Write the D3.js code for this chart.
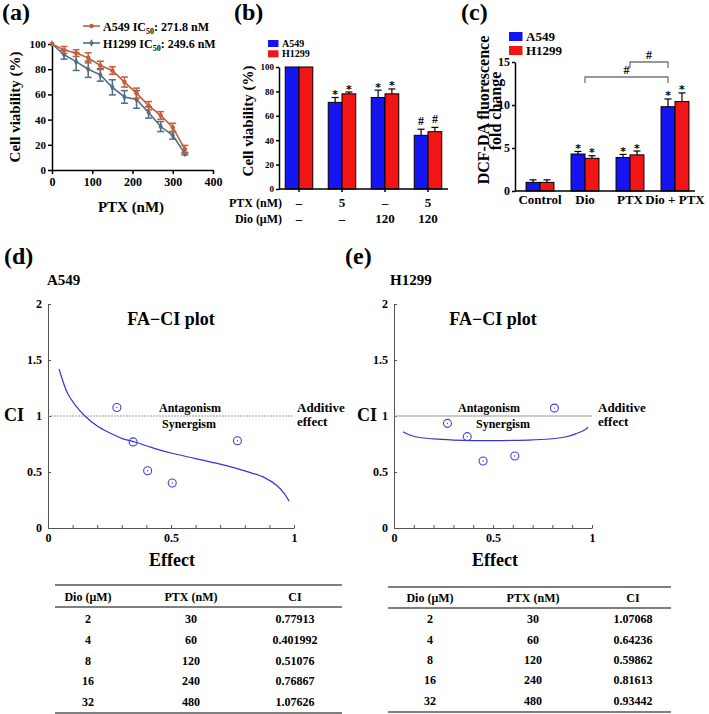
<!DOCTYPE html>
<html><head><meta charset="utf-8">
<script src="https://cdn.jsdelivr.net/npm/d3@7"></script>
<style>body{margin:0;background:#fff}svg{display:block}</style>
</head><body><svg id="chart"></svg>
<script>
// ---------- DATA ----------
// (a) dose-response
const aDose=[0,30,60,90,120,150,180,210,240,270,300,330];
const aA549=[100,95.3,92.8,89,83,79,69.8,61,51,43.3,33.8,16.5];
const aA549Err=[0,2.7,2.7,4,3.3,3,4,4,3.3,3,3.3,3];
const aH1299=[100,91.5,86,80,75.5,65.6,58,56,45.7,34.5,27.5,13];
const aH1299Err=[0,3.5,7,6.5,5,6,5,7,4.5,4,3,1];
const aXTicks=[0,100,200,300,400];
const aYTicks=[0,20,40,60,80,100];
const aNames=["A549","H1299"];
const aIC50=["271.8","249.6"];
// (b) viability bars
const bGroups=["g1","g2","g3","g4"];
const bA549=[100,71,75,44];
const bA549Err=[0,4,6,5];
const bH1299=[100,78,78,47];
const bH1299Err=[0,1.5,4,3.5];
const bMarks=["","*","*","#"];
const bPTX=["\u2013","5","\u2013","5"];
const bDio=["\u2013","\u2013","120","120"];
const bYTicks=[0,20,40,60,80,100];
// (c) DCF-DA
const cGroups=["Control","Dio","PTX","Dio + PTX"];
const cA549=[1.0,4.3,3.9,9.8];
const cA549Err=[0.3,0.3,0.35,0.9];
const cH1299=[1.0,3.8,4.2,10.4];
const cH1299Err=[0.3,0.3,0.45,1.0];
const cMarks=["","*","*","*"];
const cYTicks=[0,5,10,15];
// (d) A549 FA-CI
const dEffect=[0.77,0.505,0.405,0.346,0.28];
const dCI=[0.77913,0.401992,0.51076,0.76867,1.07626];
const dCurveE=[0.045,0.08,0.11,0.15,0.2,0.25,0.3,0.35,0.42,0.5,0.6,0.7,0.8,0.88,0.93,0.96,0.98];
const dCurveCI=[1.42,1.2,1.1,1.0,0.91,0.85,0.8,0.77,0.72,0.67,0.62,0.57,0.51,0.45,0.38,0.31,0.24];
// (e) H1299 FA-CI
const eEffect=[0.81,0.61,0.45,0.37,0.27];
const eCI=[1.07068,0.64236,0.59862,0.81613,0.93442];
const eCurveE=[0.045,0.08,0.12,0.2,0.3,0.4,0.5,0.6,0.7,0.8,0.87,0.92,0.96,0.98];
const eCurveCI=[0.86,0.83,0.81,0.795,0.785,0.78,0.78,0.782,0.787,0.797,0.815,0.843,0.873,0.9];
// tables
const tDio=[2,4,8,16,32];
const tPTX=[30,60,120,240,480];
const tHead=["Dio (\u03bcM)","PTX (nM)","CI"];
const faYTicks=[0,0.5,1,1.5,2];
const faXTicks=[0,0.1,0.2,0.3,0.4,0.5,0.6,0.7,0.8,0.9,1];
const faXLabels=[0,0.5,1];

// ---------- SETUP ----------
const W=709,H=714;
const FONT='"Liberation Serif","Times New Roman",Times,serif';
const BLUE="#1515f2",RED="#f21515";
const svg=d3.select("#chart").attr("width",W).attr("height",H)
  .style("font-family",FONT).style("font-weight","bold");

function label(g,x,y,t,size,anchor){
  return g.append("text").attr("x",x).attr("y",y).attr("font-size",size)
    .attr("text-anchor",anchor||"start").attr("fill","#000")
    .attr("font-family",FONT).attr("font-weight","bold").text(t);
}
function vlabel(g,x,y,t,size){
  return g.append("text").attr("transform",`translate(${x},${y}) rotate(-90)`)
    .attr("font-size",size).attr("text-anchor","middle").attr("fill","#000")
    .attr("font-family",FONT).attr("font-weight","bold").text(t);
}
function star(g,x,top){
  return label(g,x,top+0.5,"*",11,"middle").attr("font-family","DejaVu Sans");
}
function styleAxis(g,size,color,width){
  g.select(".domain").attr("stroke",color).attr("stroke-width",width);
  g.selectAll(".tick line").attr("stroke",color).attr("stroke-width",width);
  g.selectAll(".tick text").attr("font-size",size).attr("font-family",FONT)
    .attr("font-weight","bold").attr("fill","#000");
}

// panel letters
label(svg,2,20,"(a)",24);
label(svg,234,20,"(b)",24);
label(svg,461,20,"(c)",24);
label(svg,4,264,"(d)",24);
label(svg,345,264,"(e)",24);

// ---------- (a) ----------
{
  const g=svg.append("g");
  const x=d3.scaleLinear().domain([0,400]).range([52,213]);
  const y=d3.scaleLinear().domain([0,100]).range([170,44]);
  g.append("g").attr("transform","translate(0,170)")
    .call(d3.axisBottom(x).tickValues(aXTicks).tickSize(4).tickSizeOuter(0).tickPadding(3))
    .call(s=>styleAxis(s,12,"#000",1.5));
  g.append("g").attr("transform","translate(52,0)")
    .call(d3.axisLeft(y).tickValues(aYTicks).tickSize(4).tickSizeOuter(0).tickPadding(2))
    .call(s=>styleAxis(s,11,"#000",1.5));
  vlabel(g,20,107,"Cell viability (%)",15);
  label(g,131,212,"PTX (nM)",15,"middle");
  const series=[
    {v:aH1299,e:aH1299Err,c:"#4f6d84",sym:d3.symbolDiamond},
    {v:aA549,e:aA549Err,c:"#c35d3c",sym:d3.symbolCircle}
  ];
  series.forEach(s=>{
    const line=d3.line().x((d,i)=>x(aDose[i])).y(d=>y(d));
    g.append("path").attr("d",line(s.v)).attr("fill","none").attr("stroke",s.c).attr("stroke-width",1.6);
    const eb=g.append("g").attr("stroke",s.c).attr("stroke-width",1.5);
    s.v.forEach((v,i)=>{
      if(!s.e[i])return;
      const cx=x(aDose[i]);
      eb.append("line").attr("x1",cx).attr("x2",cx).attr("y1",y(v-s.e[i])).attr("y2",y(v+s.e[i]));
      eb.append("line").attr("x1",cx-3.5).attr("x2",cx+3.5).attr("y1",y(v-s.e[i])).attr("y2",y(v-s.e[i]));
      eb.append("line").attr("x1",cx-3.5).attr("x2",cx+3.5).attr("y1",y(v+s.e[i])).attr("y2",y(v+s.e[i]));
    });
    g.selectAll(null).data(s.v).enter().append("path")
      .attr("d",d3.symbol().type(s.sym).size(16))
      .attr("transform",(d,i)=>`translate(${x(aDose[i])},${y(d)})`).attr("fill",s.c);
  });
  const cols=["#c35d3c","#4f6d84"],syms=[d3.symbolCircle,d3.symbolDiamond];
  aNames.forEach((n,i)=>{
    const ly=26+i*17;
    g.append("line").attr("x1",83).attr("x2",100).attr("y1",ly).attr("y2",ly).attr("stroke",cols[i]).attr("stroke-width",1.6);
    g.append("path").attr("d",d3.symbol().type(syms[i]).size(16)).attr("transform",`translate(91.5,${ly})`).attr("fill",cols[i]);
    const t=label(g,103,ly+4.5,n+" IC",12);
    t.append("tspan").attr("font-size",8).attr("dy",3).text("50");
    t.append("tspan").attr("dy",-3).text(": "+aIC50[i]+" nM");
  });
}

// ---------- (b) ----------
{
  const g=svg.append("g");
  const y=d3.scaleLinear().domain([0,100]).range([189,67]);
  const x=d3.scaleBand().domain(bGroups).range([277.5,449.5]).paddingInner(0.36).paddingOuter(0.18);
  const x1=d3.scaleBand().domain(["A549","H1299"]).range([0,x.bandwidth()]);
  const ser=[{v:bA549,e:bA549Err,c:BLUE,k:"A549"},{v:bH1299,e:bH1299Err,c:RED,k:"H1299"}];
  ser.forEach(s=>{
    bGroups.forEach((gr,i)=>{
      const bx=x(gr)+x1(s.k),bw=x1.bandwidth();
      g.append("rect").attr("x",bx).attr("y",y(s.v[i])).attr("width",bw).attr("height",y(0)-y(s.v[i]))
        .attr("fill",s.c).attr("stroke","#000").attr("stroke-width",1);
      if(s.e[i]){
        const cx=bx+bw/2,top=y(s.v[i]+s.e[i]);
        g.append("line").attr("x1",cx).attr("x2",cx).attr("y1",y(s.v[i])).attr("y2",top).attr("stroke","#000").attr("stroke-width",1.2);
        g.append("line").attr("x1",cx-3.5).attr("x2",cx+3.5).attr("y1",top).attr("y2",top).attr("stroke","#000").attr("stroke-width",1.2);
      }
      if(bMarks[i]){
        const m=bMarks[i],top=y(s.v[i]+s.e[i]);
        if(m==="#") label(g,bx+bw/2,top-4,m,12,"middle");
        else star(g,bx+bw/2,top);
      }
    });
  });
  g.append("g").attr("transform","translate(0,189)")
    .call(d3.axisBottom(x).tickSize(3).tickSizeOuter(0).tickFormat(""))
    .call(s=>styleAxis(s,9,"#000",1.5));
  g.select("g").select(".domain").attr("d","M279,0H448");
  g.append("g").attr("transform","translate(279,0)")
    .call(d3.axisLeft(y).tickValues(bYTicks).tickSize(3).tickSizeOuter(0).tickPadding(2))
    .call(s=>styleAxis(s,9,"#000",1.5));
  vlabel(g,253,121,"Cell viability (%)",15);
  [["A549",BLUE],["H1299",RED]].forEach((d,i)=>{
    const ly=40+i*10.3;
    g.append("rect").attr("x",268).attr("y",ly).attr("width",10.5).attr("height",7).attr("fill",d[1]);
    label(g,282,ly+7,d[0],10);
  });
  label(g,282,207,"PTX (nM)",12,"end");
  label(g,282,223,"Dio (\u03bcM)",12,"end");
  bGroups.forEach((gr,i)=>{
    const cx=x(gr)+x.bandwidth()/2;
    label(g,cx,207,bPTX[i],13,"middle");
    label(g,cx,223,bDio[i],13,"middle");
  });
}

// ---------- (c) ----------
{
  const g=svg.append("g");
  const y=d3.scaleLinear().domain([0,15]).range([191,62]);
  const x=d3.scaleBand().domain(cGroups).range([517.5,697.5]).paddingInner(0.38).paddingOuter(0.19);
  const x1=d3.scaleBand().domain(["A549","H1299"]).range([0,x.bandwidth()]);
  const ser=[{v:cA549,e:cA549Err,c:BLUE,k:"A549"},{v:cH1299,e:cH1299Err,c:RED,k:"H1299"}];
  ser.forEach(s=>{
    cGroups.forEach((gr,i)=>{
      const bx=x(gr)+x1(s.k),bw=x1.bandwidth();
      g.append("rect").attr("x",bx).attr("y",y(s.v[i])).attr("width",bw).attr("height",y(0)-y(s.v[i]))
        .attr("fill",s.c).attr("stroke","#000").attr("stroke-width",1);
      const cx=bx+bw/2,top=y(s.v[i]+s.e[i]);
      g.append("line").attr("x1",cx).attr("x2",cx).attr("y1",y(s.v[i])).attr("y2",top).attr("stroke","#000").attr("stroke-width",1.2);
      g.append("line").attr("x1",cx-3.5).attr("x2",cx+3.5).attr("y1",top).attr("y2",top).attr("stroke","#000").attr("stroke-width",1.2);
      if(cMarks[i]) star(g,cx,top);
    });
  });
  g.append("g").attr("transform","translate(0,191)")
    .call(d3.axisBottom(x).tickSize(0).tickSizeOuter(0).tickPadding(4))
    .call(s=>styleAxis(s,13,"#000",1.5));
  g.select("g").select(".domain").attr("d","M515,0H695");
  g.append("g").attr("transform","translate(515,0)")
    .call(d3.axisLeft(y).tickValues(cYTicks).tickSize(3).tickSizeOuter(0).tickPadding(2))
    .call(s=>styleAxis(s,12,"#000",1.5));
  vlabel(g,489,110,"DCF-DA fluorescence",16);
  vlabel(g,501,111,"fold change",16);
  [["A549",BLUE],["H1299",RED]].forEach((d,i)=>{
    const ly=32+i*14;
    g.append("rect").attr("x",509).attr("y",ly).attr("width",13.5).attr("height",9).attr("fill",d[1]);
    label(g,526,ly+9,d[0],13);
  });
  const bc=x1.bandwidth()/2;
  const br=[{x0:x("Dio")+x.bandwidth()/2,x1:x("Dio + PTX")+bc,y:77},
            {x0:x("PTX")+x.bandwidth()/2,x1:x("Dio + PTX")+bc,y:62}];
  br.forEach(b=>{
    g.append("path").attr("d",`M${b.x0},${b.y+6}V${b.y}H${b.x1}V${b.y+6}`)
      .attr("fill","none").attr("stroke","#777").attr("stroke-width",1.3);
    label(g,(b.x0+b.x1)/2,b.y-3,"#",12,"middle");
  });
}

// ---------- FA-CI panels ----------
function faci(cfg){
  const g=svg.append("g");
  const x=d3.scaleLinear().domain([0,1]).range([cfg.x0,cfg.x1]);
  const y=d3.scaleLinear().domain([0,2]).range([528,304]);
  g.append("g").attr("transform","translate(0,528)")
    .call(d3.axisBottom(x).tickValues(faXTicks).tickSize(-3).tickSizeOuter(0).tickPadding(5)
      .tickFormat(d=>faXLabels.some(v=>Math.abs(v-d)<1e-9)?String(d):""))
    .call(s=>styleAxis(s,12,"#555",1));
  g.append("g").attr("transform",`translate(${cfg.x0},0)`)
    .call(d3.axisLeft(y).tickValues(faYTicks).tickSize(-3).tickSizeOuter(0).tickPadding(6).tickFormat(d=>String(d)))
    .call(s=>styleAxis(s,12,"#555",1));
  g.append("line").attr("x1",x(0)).attr("x2",x(1)).attr("y1",y(1)).attr("y2",y(1))
    .attr("stroke","#999").attr("stroke-width",1.2).attr("stroke-dasharray",cfg.dash);
  label(g,cfg.antX,412,"Antagonism",12,"middle");
  label(g,cfg.synX,428,"Synergism",12,"middle");
  label(g,cfg.addX,412,"Additive",13);
  label(g,cfg.addX,426,"effect",13);
  label(g,cfg.ciX,421,"CI",18);
  label(g,x(0.5),325,"FA\u2212CI plot",18,"middle");
  label(g,cfg.effX,566,"Effect",18,"middle");
  label(g,cfg.cellX,285,cfg.cell,15);
  const line=d3.line().x((d,i)=>x(cfg.cE[i])).y(d=>y(d)).curve(d3.curveCatmullRom);
  g.append("path").attr("d",line(cfg.cC)).attr("fill","none").attr("stroke","#3535d8").attr("stroke-width",1.2);
  cfg.eff.forEach((e,i)=>{
    g.append("circle").attr("cx",x(e)).attr("cy",y(cfg.ci[i])).attr("r",4)
      .attr("fill","none").attr("stroke","#4040e0").attr("stroke-width",1.1);
    g.append("circle").attr("cx",x(e)).attr("cy",y(cfg.ci[i])).attr("r",0.7).attr("fill","#4040e0");
  });
  const t=cfg.tbl;
  [t.top,t.head,t.bot].forEach(yy=>g.append("line").attr("x1",t.l).attr("x2",t.r).attr("y1",yy).attr("y2",yy)
    .attr("stroke","#555").attr("stroke-width",1.4));
  tHead.forEach((h,j)=>label(g,t.cols[j],t.hb,h,12,"middle"));
  tDio.forEach((d,i)=>{
    label(g,t.cols[0],t.rows[i],String(d),12,"middle");
    label(g,t.cols[1],t.rows[i],String(tPTX[i]),12,"middle");
    label(g,t.cols[2],t.rows[i],String(cfg.ci[i]),12,"middle");
  });
}
faci({x0:48,x1:294,eff:dEffect,ci:dCI,cE:dCurveE,cC:dCurveCI,dash:"2,1",
  antX:190,synX:189,addX:297,ciX:4,effX:172,cell:"A549",cellX:47,
  tbl:{l:55,r:342,top:585,head:607,bot:713,hb:601,cols:[88,191,295],rows:[623,644,665,685,706]}});
faci({x0:394,x1:592,eff:eEffect,ci:eCI,cE:eCurveE,cC:eCurveCI,dash:null,
  antX:489,synX:503,addX:598,ciX:357,effX:495,cell:"H1299",cellX:390,
  tbl:{l:388,r:671,top:587,head:608,bot:712,hb:602,cols:[430,533,633],rows:[623,644,664,684,705]}});
</script></body></html>
